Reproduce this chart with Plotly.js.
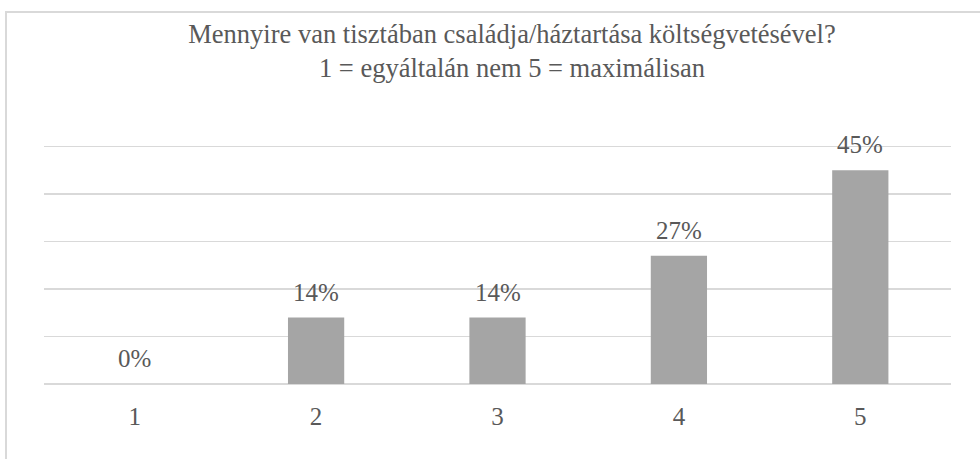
<!DOCTYPE html>
<html>
<head>
<meta charset="utf-8">
<script src="https://cdn.plot.ly/plotly-3.0.1.min.js"></script>
<style>
  html, body { margin: 0; padding: 0; background: #fff; }
  #wrap { position: relative; width: 980px; height: 459px; overflow: hidden; }
  #frame { position: absolute; left: 5px; top: 11px; width: 1000px; height: 500px;
           border-left: 2px solid #d9d9d9; border-top: 2px solid #d9d9d9; box-sizing: border-box; }
  #chart { position: absolute; left: 0; top: 0; width: 980px; height: 459px; }
</style>
</head>
<body>
<div id="wrap">
  <div id="frame"></div>
  <div id="chart"></div>
</div>
<script>
const categories = ['1', '2', '3', '4', '5'];
const values = [0, 14, 14, 27, 45];
const labels = ['0%', '14%', '14%', '27%', '45%'];
const titleText = 'Mennyire van tisztában családja/háztartása költségvetésével?<br>1 = egyáltalán nem 5 = maximálisan';

const FONT = 'Liberation Serif, Times New Roman, serif';
const TXT = '#595959';

const trace = {
  type: 'bar',
  x: categories,
  y: values,
  width: 0.31,
  marker: { color: '#a5a5a5' },
  hoverinfo: 'skip'
};

const annotations = categories.map((c, i) => ({
  x: i, y: values[i], xref: 'x', yref: 'y',
  text: labels[i], showarrow: false,
  yanchor: 'bottom', yshift: 10,
  font: { family: FONT, size: 25, color: TXT }
}));

const layout = {
  width: 980, height: 459,
  paper_bgcolor: 'rgba(0,0,0,0)', plot_bgcolor: 'rgba(0,0,0,0)',
  margin: { l: 44, r: 29, t: 137, b: 75 },
  showlegend: false,
  font: { family: FONT, color: TXT },
  title: {
    text: titleText,
    font: { family: FONT, size: 26.5, color: TXT },
    x: 512 / 980, xanchor: 'center', xref: 'container',
    y: 1 - 43 / 459, yanchor: 'top', yref: 'container'
  },
  xaxis: {
    type: 'category',
    range: [-0.5, 4.5],
    showgrid: false, zeroline: false, showline: false,
    ticks: '', ticklabelstandoff: 15,
    tickfont: { family: FONT, size: 25, color: TXT }
  },
  yaxis: {
    range: [0, 52],
    tickvals: [0, 10, 20, 30, 40, 50],
    showticklabels: false,
    showgrid: true, gridcolor: '#d9d9d9', gridwidth: 1.5,
    zeroline: true, zerolinecolor: '#d9d9d9', zerolinewidth: 1.5,
    showline: false, ticks: ''
  },
  annotations: annotations
};

Plotly.newPlot('chart', [trace], layout, { displayModeBar: false, staticPlot: true });
</script>
</body>
</html>
